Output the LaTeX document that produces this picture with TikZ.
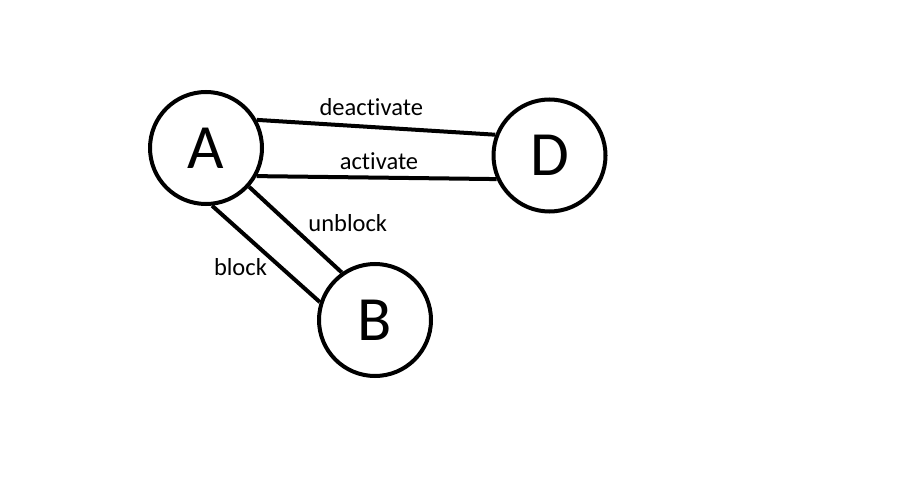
\documentclass[tikz,border=0pt]{standalone}
\usepackage{fontspec}
\setmainfont{Carlito}[Ligatures=NoCommon]
\usepackage{tikz}
\usetikzlibrary{positioning}
\tikzstyle{state} = [circle, draw=black, line width=4pt, fill=white, text=black, text centered, inner sep=0pt, font=\fontsize{63}{70}\selectfont, minimum size = 112pt]
\tikzstyle{textonly} = [draw=none, fill=none, inner sep=0pt, text centered, font=\fontsize{24.5}{28}\selectfont]
\tikzstyle{tline}  = [draw, line width=4pt]

\begin{document}
\begin{tikzpicture}[auto, on grid]
\useasboundingbox (0,0) rectangle (901pt,-478pt);

% states =============================
\node[state] (A) at (206pt,-148pt) {A};
\node[state, below right=7.5pt and 343.5pt of A] (D) {D};
\node[state, below right=172pt and 169pt of A] (B) {B};

% edges
\path[tline] (A.29) -- node[textonly, pos=0.48, above=9.7pt] {deactivate} (D.159);
\path[tline] (A.331) -- node[textonly, pos=0.51, above=6pt] {activate} (D.204);
\path[tline] (A.318) -- node[textonly, pos=0.418, right=18.6pt] {unblock} (B.125);
\path[tline] (A.276) -- node[textonly, pos=0.637, left=11.8pt] {block} (B.162);

\end{tikzpicture}
\end{document}
